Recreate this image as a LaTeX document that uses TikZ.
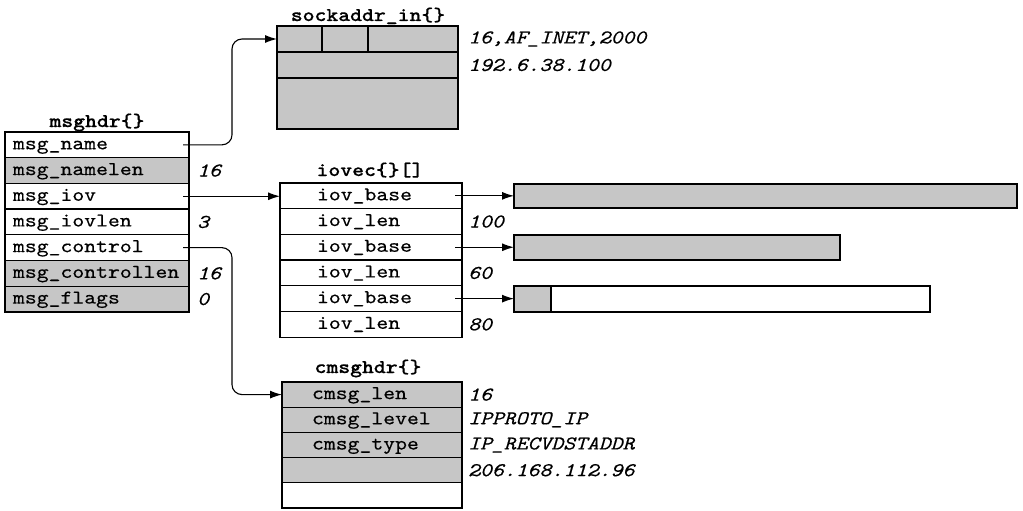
\documentclass[tikz,border=0pt]{standalone}
\usepackage{fontspec}
\newfontfamily\cour{lmmono10-regular}[Extension=.otf, FakeStretch=1.16, FakeBold=0.4, ItalicFont=lmmono10-italic, BoldFont=lmmonolt10-bold]
\usetikzlibrary{arrows.meta,calc}
\definecolor{shade}{RGB}{198,198,198}
\begin{document}
\begin{tikzpicture}[x=1pt,y=-1pt,
  txtfont/.style={font=\cour\fontsize{19.5}{20}\selectfont},
  fldrow/.style={txtfont, draw, line width=1.3pt, inner ysep=0pt, outer sep=0pt, align=left, anchor=north west, text height=12.5pt, text depth=3.5pt},
  mhrow/.style={fldrow, text width=168pt, inner xsep=8pt, minimum height=25.7pt},
  ivrow/.style={fldrow, text width=108pt, inner xsep=37pt, minimum height=25.7pt},
  cmrow/.style={fldrow, text width=120pt, inner xsep=30pt, minimum height=25.2pt},
  blkbox/.style={draw, line width=1.3pt, anchor=north west, inner sep=0pt, outer sep=0pt},
  shaded/.style={fill=shade},
  valtxt/.style={font=\cour\itshape\fontsize{19.5}{20}\selectfont, anchor=west, inner sep=0pt},
  ttltxt/.style={font=\cour\bfseries\fontsize{19.5}{20}\selectfont, anchor=base, inner sep=0pt},
  arrline/.style={line width=1.1pt, -{Latex[length=12pt,width=8pt]}}]
\path[fill=white] (0,0) rectangle (1023,511);
\useasboundingbox (0,0) rectangle (1023,511);

% msghdr
\node[ttltxt] (tmh) at (97,127) {msghdr\{\}};
\node[mhrow] (m1) at (5,132) {msg\_name};
\node[mhrow, shaded] (m2) at (m1.south west) {msg\_namelen};
\node[mhrow] (m3) at (m2.south west) {msg\_iov};
\node[mhrow] (m4) at (m3.south west) {msg\_iovlen};
\node[mhrow] (m5) at (m4.south west) {msg\_control};
\node[mhrow, shaded] (m6) at (m5.south west) {msg\_controllen};
\node[mhrow, shaded] (m7) at (m6.south west) {msg\_flags};
\node[valtxt] (v2) at ([xshift=8pt]m2.east) {16};
\node[valtxt] (v4) at ([xshift=8pt]m4.east) {3};
\node[valtxt] (v6) at ([xshift=8pt]m6.east) {16};
\node[valtxt] (v7) at ([xshift=8pt]m7.east) {0};

% sockaddr_in
\node[ttltxt] (tsa) at (368,21) {sockaddr\_in\{\}};
\node[blkbox, shaded, minimum width=45pt, minimum height=26pt] (s1a) at (277,26) {};
\node[blkbox, shaded, minimum width=46pt, minimum height=26pt] (s1b) at (s1a.north east) {};
\node[blkbox, shaded, minimum width=90pt, minimum height=26pt] (s1c) at (s1b.north east) {};
\node[blkbox, shaded, minimum width=181pt, minimum height=26pt] (s2) at (s1a.south west) {};
\node[blkbox, shaded, minimum width=181pt, minimum height=51pt] (s3) at (s2.south west) {};
\node[valtxt] (sv1) at ([xshift=10pt]s1c.east) {16,AF\_INET,2000};
\node[valtxt] (sv2) at ([xshift=10pt]s2.east) {192.6.38.100};

% iovec
\node[ttltxt] (tiv) at (370,176) {iovec\{\}[]};
\node[ivrow] (i1) at (280,183) {iov\_base};
\node[ivrow] (i2) at (i1.south west) {iov\_len};
\node[ivrow] (i3) at (i2.south west) {iov\_base};
\node[ivrow] (i4) at (i3.south west) {iov\_len};
\node[ivrow] (i5) at (i4.south west) {iov\_base};
\node[ivrow] (i6) at (i5.south west) {iov\_len};
\node[valtxt] (iv2) at ([xshift=6pt]i2.east) {100};
\node[valtxt] (iv4) at ([xshift=6pt]i4.east) {60};
\node[valtxt] (iv6) at ([xshift=6pt]i6.east) {80};

% buffers
\node[blkbox, shaded, minimum width=503pt, minimum height=24pt] (b1) at (514,184) {};
\node[blkbox, shaded, minimum width=326pt, minimum height=25pt] (b2) at (514,235) {};
\node[blkbox, minimum width=416pt, minimum height=26pt] (b3) at (514,286) {};
\node[blkbox, shaded, minimum width=37pt, minimum height=26pt] (b3s) at (514,286) {};

% cmsghdr
\node[ttltxt] (tcm) at (368,373) {cmsghdr\{\}};
\node[cmrow, shaded] (c1) at (282,382) {cmsg\_len};
\node[cmrow, shaded] (c2) at (c1.south west) {cmsg\_level};
\node[cmrow, shaded] (c3) at (c2.south west) {cmsg\_type};
\node[cmrow, shaded] (c4) at (c3.south west) {};
\node[cmrow] (c5) at (c4.south west) {};
\node[valtxt] (cv1) at ([xshift=6pt]c1.east) {16};
\node[valtxt] (cv2) at ([xshift=6pt]c2.east) {IPPROTO\_IP};
\node[valtxt] (cv3) at ([xshift=6pt]c3.east) {IP\_RECVDSTADDR};
\node[valtxt] (cv4) at ([xshift=6pt]c4.east) {206.168.112.96};

% connectors
\draw[arrline, rounded corners=10pt] ([xshift=-6pt]m1.east) -- ++(49pt,0) |- (s1a.west);
\draw[arrline] ([xshift=-6pt]m3.east) -- (i1.west |- m3.east);
\draw[arrline, rounded corners=10pt] ([xshift=-6pt]m5.east) -- ++(49pt,0) |- (c1.west);
\draw[arrline] ([xshift=-7pt]i1.east) -- (b1.west |- i1.east);
\draw[arrline] ([xshift=-7pt]i3.east) -- (b2.west |- i3.east);
\draw[arrline] ([xshift=-7pt]i5.east) -- (b3.west |- i5.east);
\end{tikzpicture}
\end{document}
